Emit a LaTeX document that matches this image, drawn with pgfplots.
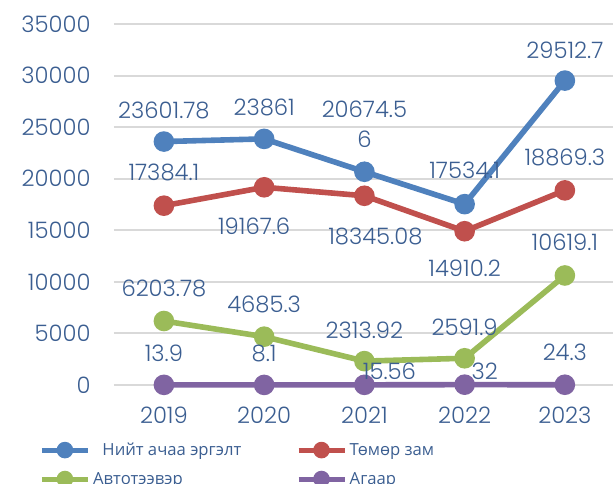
\documentclass[border=0pt]{standalone}
\usepackage{fontspec}
\setmainfont{Poppins Light}
\newfontfamily\legfont{Open Sans}
\usepackage{pgfplots}
\pgfplotsset{compat=1.18}

\definecolor{txt}{RGB}{59,94,145}
\definecolor{cA}{RGB}{79,129,189}
\definecolor{cB}{RGB}{192,80,77}
\definecolor{cC}{RGB}{155,187,89}
\definecolor{cD}{RGB}{128,100,162}
\definecolor{grd}{RGB}{217,217,217}

\newcommand\numfont{\fontsize{17}{19}\selectfont}
% data label: \lb{dx}{dy}{text}, centre of text dx,dy px from the point
\protected\def\lb#1#2#3{\makebox[0pt]{\hspace*{\dimexpr 1.5pt*#1\relax}%
  \raisebox{\dimexpr 0.75pt*#2-0.36em\relax}[0pt][0pt]{#3}}}

\pgfplotstableread{
x y lab
0 23601.78 \lb{0}{31}{23601.78}
1 23861 \lb{0}{32}{23861}
2 20674.56 \lb{0}{62}{20674.5}\lb{0}{32}{6}
3 17534.1 \lb{0}{34}{17534.1}
4 29512.7 \lb{0}{30}{29512.7}
}\tA
\pgfplotstableread{
x y lab
0 17384.1 \lb{0}{33}{17384.1}
1 19167.6 \lb{-10}{-39}{19167.6}
2 18345.08 \lb{11}{-41}{18345.08}
3 14910.2 \lb{0}{-37}{14910.2}
4 18869.3 \lb{0}{33}{18869.3}
}\tB
\pgfplotstableread{
x y lab
0 6203.78 \lb{0}{33}{6203.78}
1 4685.3 \lb{0}{32}{4685.3}
2 2313.92 \lb{0}{31}{2313.92}
3 2591.9 \lb{0}{31}{2591.9}
4 10619.1 \lb{0}{33}{10619.1}
}\tC
\pgfplotstableread{
x y lab
0 13.9 \lb{0}{32}{13.9}
1 8.1 \lb{0}{32}{8.1}
2 15.56 \lb{25}{13}{15.56}
3 32 \lb{20}{13}{32}
4 24.3 \lb{0}{32}{24.3}
}\tD

\pgfplotsset{
  ser/.style={color=#1, line width=4.2pt, mark=*, mark size=5.6pt,
    mark options={draw=none, fill=#1}},
  lbl/.style={forget plot, draw=none, mark=none,
    nodes near coords, point meta=explicit symbolic,
    every node near coord/.append style={anchor=center,
      font=\numfont, text=txt, inner sep=0pt}},
}

\begin{document}
\begin{tikzpicture}
\begin{axis}[
  scale only axis, width=375.9pt, height=270.75pt,
  at={(85.35pt,74.25pt)}, anchor=south west,
  xmin=-0.5, xmax=4.5, ymin=0, ymax=35000,
  xtick={0,1,2,3,4}, xticklabels={2019,2020,2021,2022,2023},
  ytick={0,5000,...,35000},
  scaled y ticks=false,
  yticklabel style={/pgf/number format/1000 sep={}},
  /pgf/number format/assume math mode=true,
  axis line style={draw=none}, major tick length=0pt,
  ymajorgrids, grid style={line width=1.5pt, grd},
  clip=false,
  tick label style={font=\numfont, text=txt},
  yticklabel style={anchor=east, inner sep=0pt, xshift=-17.3pt},
  xticklabel style={anchor=center, inner sep=0pt, yshift=-22.5pt},
  legend columns=2,
  legend image code/.code={\draw[mark repeat=2,mark phase=2,#1,
      line width=3.8pt, mark size=4.3pt]
    plot coordinates {(0pt,0pt) (17.25pt,0pt) (34.5pt,0pt)};},
  legend style={draw=none, fill=none, at={(axis description cs:-0.149,-0.152)},
    anchor=north west, inner sep=0pt, row sep=7pt,
    font=\legfont\fontsize{12.5}{14}\selectfont, text=txt,
    cells={anchor=west},
    /tikz/every even column/.append style={column sep=39pt}},
]
\addplot[ser=cA] table[x=x, y=y] {\tA};
\addlegendentry{\hspace{7pt}Нийт ачаа эргэлт}
\addplot[ser=cB] table[x=x, y=y] {\tB};
\addlegendentry{Төмөр зам}
\addplot[ser=cC] table[x=x, y=y] {\tC};
\addlegendentry{Автотээвэр}
\addplot[ser=cD] table[x=x, y=y] {\tD};
\addlegendentry{Агаар}
\addplot[lbl] table[x=x, y=y, meta=lab] {\tA};
\addplot[lbl] table[x=x, y=y, meta=lab] {\tB};
\addplot[lbl] table[x=x, y=y, meta=lab] {\tC};
\addplot[lbl] table[x=x, y=y, meta=lab] {\tD};
\end{axis}
\pgfresetboundingbox
\path[use as bounding box] (0,0) rectangle (459.75pt,363pt);
\end{tikzpicture}
\end{document}
